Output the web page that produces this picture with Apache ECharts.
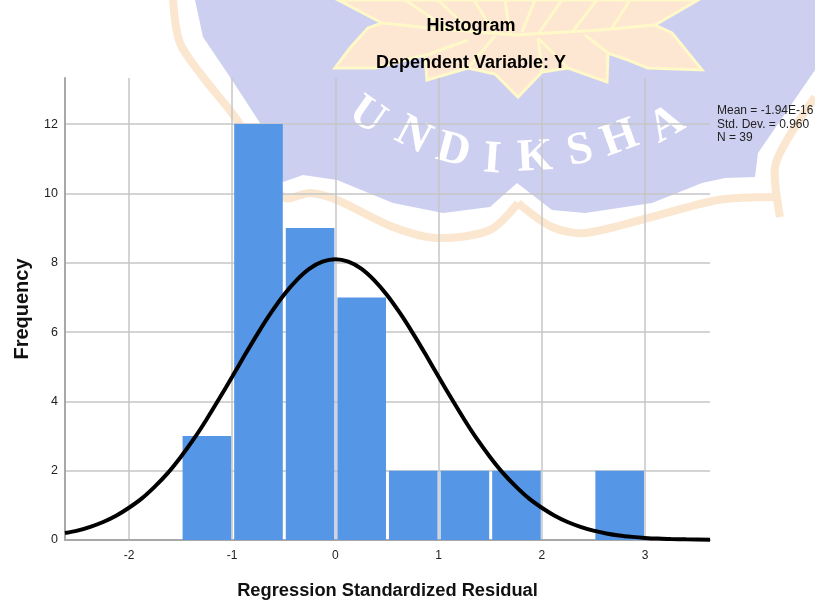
<!DOCTYPE html>
<html>
<head>
<meta charset="utf-8">
<title>Histogram</title>
<script src="https://cdn.jsdelivr.net/npm/echarts@6/dist/echarts.min.js"></script>
<style>
html, body { margin: 0; padding: 0; background: #fff; }
#chart { width: 815px; height: 601px; }
</style>
</head>
<body>
<div id="chart"></div>
<script>
// histogram bins
const binStart = [-1.5, -1, -0.5, 0, 0.5, 1, 1.5, 2.5];
const binEnd = [-1, -0.5, 0, 0.5, 1, 1.5, 2, 3];
const counts = [3, 12, 9, 7, 2, 2, 2, 2];

// normal curve
const curveX = [-2.62, -2.5, -2.375, -2.25, -2.125, -2, -1.875, -1.75, -1.625, -1.5, -1.375, -1.25, -1.125, -1, -0.875, -0.75, -0.625, -0.5, -0.375, -0.25, -0.125, 0, 0.125, 0.25, 0.375, 0.5, 0.625, 0.75, 0.875, 1, 1.125, 1.25, 1.375, 1.5, 1.625, 1.75, 1.875, 2, 2.125, 2.25, 2.375, 2.5, 2.625, 2.75, 2.875, 3, 3.125, 3.25, 3.4, 3.63];
const curveY = [0.2, 0.27, 0.38, 0.52, 0.7, 0.93, 1.2, 1.54, 1.93, 2.39, 2.9, 3.47, 4.08, 4.71, 5.35, 5.97, 6.55, 7.07, 7.5, 7.83, 8.03, 8.1, 8.03, 7.83, 7.5, 7.07, 6.55, 5.97, 5.35, 4.71, 4.08, 3.47, 2.9, 2.39, 1.93, 1.54, 1.2, 0.93, 0.7, 0.52, 0.38, 0.27, 0.19, 0.13, 0.09, 0.06, 0.04, 0.03, 0.02, 0.01];

const xTicks = [-2, -1, 0, 1, 2, 3];
const yTicks = [0, 2, 4, 6, 8, 10, 12];
const statLines = ['Mean = -1.94E-16', 'Std. Dev. = 0.960', 'N = 39'];

// watermark behind the chart
const lavenderShape = [[195,0],[203,37],[232,80],[260,123],[283,182],[303,175],[337,180],[393,203],[443,213],[490,207],[517,183],[552,210],[585,213],[652,203],[702,183],[725,178],[755,177],[758,153],[815,70],[815,0]];
const goldLeft = [[173,0],[180,43],[203,77],[237,120],[283,197],[310,193],[337,200],[393,227],[437,238],[490,230],[518,203]];
const goldRight = [[518,203],[552,227],[585,233],[652,217],[718,200],[778,197]];
const goldTip = [[780,217],[775,167],[790,135],[815,97]];
const lotusShape = [[338,0],[382,23],[368,28],[350,48],[335,68],[375,68],[425,55],[427,80],[468,68],[495,74],[518,97],[542,72],[568,68],[607,82],[608,53],[628,60],[648,68],[702,70],[672,33],[655,25],[698,0]];
const lotusVeins = [
    [[382,23],[430,28],[515,35],[600,30],[655,25]],
    [[468,40],[427,55]],
    [[468,68],[495,36]],
    [[538,38],[542,72]],
    [[538,38],[568,68]],
    [[585,35],[608,53]],
    [[405,0],[450,30]], [[438,0],[472,32]], [[474,0],[495,34]], [[505,0],[510,34]],
    [[535,0],[522,32]], [[562,0],[538,34]], [[597,0],[572,32]], [[630,0],[612,28]]
];
const wmLetters = ['U', 'N', 'D', 'I', 'K', 'S', 'H', 'A'];
const wmX = [367, 413, 453, 492, 535, 580, 620, 667];
const wmY = [116, 136, 151, 160, 158, 151, 139, 125];
const wmAngle = [35, 28, 15, 4, -3, -12, -20, -30];

const chart = echarts.init(document.getElementById('chart'));

const watermark = [
    { type: 'polygon', z: -3, shape: { points: lavenderShape }, style: { fill: '#cdcff0' } },
    { type: 'polyline', z: -3, shape: { points: goldLeft, smooth: 0.3 }, style: { stroke: '#fbe6cf', lineWidth: 8, fill: 'none' } },
    { type: 'polyline', z: -3, shape: { points: goldRight, smooth: 0.3 }, style: { stroke: '#fbe6cf', lineWidth: 8, fill: 'none' } },
    { type: 'polyline', z: -3, shape: { points: goldTip, smooth: 0.3 }, style: { stroke: '#fbe6cf', lineWidth: 8, fill: 'none' } },
    { type: 'polygon', z: -2, shape: { points: lotusShape }, style: { fill: '#fde7d3', stroke: '#fff8c8', lineWidth: 3 } }
];
lotusVeins.forEach(function (pts) {
    watermark.push({ type: 'polyline', z: -2, shape: { points: pts }, style: { stroke: '#fff8c8', lineWidth: 3, fill: 'none' } });
});
wmLetters.forEach(function (ch, i) {
    watermark.push({
        type: 'text', z: -2, x: wmX[i], y: wmY[i], rotation: -wmAngle[i] * Math.PI / 180,
        style: { text: ch, fill: '#fff', font: 'bold 46px "Liberation Serif"', align: 'center', verticalAlign: 'middle' }
    });
});
statLines.forEach(function (line, i) {
    watermark.push({
        type: 'text', x: 717, y: 105 + i * 13.5,
        style: { text: line, fill: '#222', font: '12px "Liberation Sans"' }
    });
});

chart.setOption({
    backgroundColor: '#fff',
    animation: false,
    title: {
        left: 466,
        top: 12,
        textAlign: 'center',
        text: 'Histogram',
        subtext: 'Dependent Variable: Y',
        itemGap: 19,
        textStyle: { color: '#000', fontFamily: 'Liberation Sans', fontSize: 18, fontWeight: 'bold' },
        subtextStyle: { color: '#000', fontFamily: 'Liberation Sans', fontSize: 18, fontWeight: 'bold' }
    },
    graphic: watermark,
    grid: { left: 65, right: 105, top: 78, bottom: 61, outerBoundsMode: 'none' },
    xAxis: {
        type: 'value',
        min: -2.62,
        max: 3.63,
        name: 'Regression Standardized Residual',
        nameLocation: 'middle',
        nameGap: 42,
        nameTextStyle: { color: '#111', fontFamily: 'Liberation Sans', fontSize: 18.3, fontWeight: 'bold' },
        axisLine: { onZero: false, lineStyle: { color: '#a8a8a8', width: 2 } },
        axisTick: { show: false, customValues: xTicks },
        axisLabel: { customValues: xTicks, color: '#222', fontFamily: 'Liberation Sans', fontSize: 12, margin: 10 },
        splitLine: { show: true, lineStyle: { color: '#c6c6c6', width: 1.5 } }
    },
    yAxis: {
        type: 'value',
        min: 0,
        max: 13.33,
        name: 'Frequency',
        nameLocation: 'middle',
        nameGap: 33,
        nameTextStyle: { color: '#111', fontFamily: 'Liberation Sans', fontSize: 20, fontWeight: 'bold' },
        axisLine: { show: true, onZero: false, lineStyle: { color: '#a8a8a8', width: 2 } },
        axisTick: { show: false, customValues: yTicks },
        axisLabel: { customValues: yTicks, color: '#222', fontFamily: 'Liberation Sans', fontSize: 12.5, margin: 7, padding: [4, 0, 0, 0] },
        splitLine: { show: true, lineStyle: { color: '#c6c6c6', width: 1.5 } }
    },
    series: [
        {
            type: 'custom',
            z: 3,
            encode: { x: [0, 1], y: 2 },
            data: counts.map(function (c, i) { return [binStart[i], binEnd[i], c]; }),
            renderItem: function (params, api) {
                const a = api.coord([api.value(0), api.value(2)]);
                const b = api.coord([api.value(1), 0]);
                return {
                    type: 'rect',
                    shape: { x: a[0] + 2, y: a[1], width: b[0] - a[0] - 3, height: b[1] - a[1] },
                    style: { fill: '#5596e6' }
                };
            }
        },
        {
            type: 'line',
            z: 4,
            smooth: 0.3,
            symbol: 'none',
            lineStyle: { color: '#000', width: 4 },
            data: curveX.map(function (x, i) { return [x, curveY[i]]; })
        }
    ]
});
</script>
</body>
</html>
